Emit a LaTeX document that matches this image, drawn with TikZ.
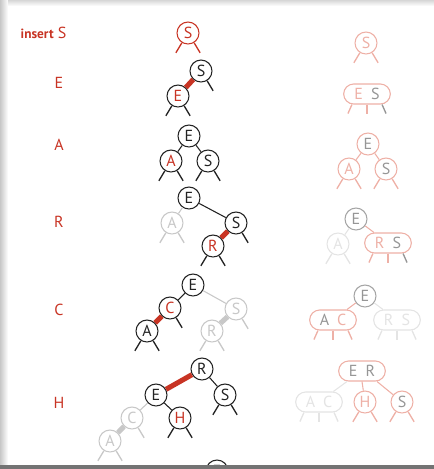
\documentclass[tikz,border=0pt]{standalone}
\usepackage{fontspec}
\setmainfont{PT Sans}
\usepackage{tikz}
\usetikzlibrary{calc,positioning}

\definecolor{ink}{RGB}{35,35,35}
\definecolor{redc}{RGB}{200,52,36}
\definecolor{pinkc}{RGB}{238,176,166}
\definecolor{grayc}{RGB}{150,150,150}
\definecolor{grayb}{RGB}{165,165,165}
\definecolor{ghost}{RGB}{200,200,200}
\definecolor{vlight}{RGB}{228,228,228}

\tikzset{
  nd/.style={circle, fill=white, minimum size=16.5pt, inner sep=0pt, line width=0.8pt,
    font=\fontsize{12pt}{12pt}\selectfont},
  dnd/.style={rectangle, rounded corners=7.5pt, fill=white, minimum width=35pt,
    minimum height=15pt, inner sep=0pt, line width=0.8pt, font=\fontsize{12pt}{12pt}\selectfont},
  blk/.style={nd, draw=ink, text=ink},
  blkr/.style={nd, draw=ink, text=redc},
  redn/.style={nd, draw=redc, text=redc},
  ghostn/.style={nd, draw=ghost, text=ghost},
  pinkn/.style={nd, draw=pinkc, text=pinkc},
  pinkg/.style={nd, draw=pinkc, text=grayc},
  grayn/.style={nd, draw=grayb, text=grayc},
  vlightn/.style={nd, draw=vlight, text=vlight},
  leg/.style={line width=1pt},
  lnk/.style={line width=0.8pt},
  fat/.style={line width=3.8pt},
  rowlabel/.style={text=redc, font=\fontsize{12pt}{12pt}\selectfont},
}

\newcommand{\lleg}[2]{\draw[leg,#2] (#1.-122) -- ++(-6,-10);}
\newcommand{\rleg}[2]{\draw[leg,#2] (#1.-58) -- ++(6,-10);}
\newcommand{\tlegs}[4]{%
  \draw[leg,#2] (#1.-145) -- ++(-4,-9);
  \draw[leg,#3] (#1.south) -- ++(0,-9);
  \draw[leg,#4] (#1.-35) -- ++(4,-9);}

\begin{document}
\begin{tikzpicture}[x=0.75pt,y=0.75pt]
  \useasboundingbox (0,-469) rectangle (434,0);
  % page edge
  \shade[left color=black!22, right color=white] (0,-469) rectangle (8,0);
  \shade[top color=black!16, bottom color=white] (8,0) rectangle (434,-6);

  % row labels
  \node[rowlabel, anchor=west] (lab1) at (16,-33) {{\fontsize{10pt}{10pt}\selectfont\bfseries insert} S};
  \node[rowlabel] (lab2) at (59,-83) {E};
  \node[rowlabel] (lab3) at (59,-145) {A};
  \node[rowlabel] (lab4) at (59,-222) {R};
  \node[rowlabel] (lab5) at (59,-310) {C};
  \node[rowlabel] (lab6) at (59,-403) {H};

  % insert S
  \node[redn] (s1) at (188,-33) {S};
  \lleg{s1}{redc} \rleg{s1}{redc}
  \node[pinkn] (s1r) at (366,-43) {S};
  \lleg{s1r}{pinkc} \rleg{s1r}{pinkc}

  % insert E
  \node[blk] (s2) at (201,-71) {S};
  \node[blkr] (e2) at (178,-96) {E};
  \draw[fat,redc] (s2) -- (e2);
  \rleg{s2}{ink}
  \lleg{e2}{ink} \rleg{e2}{ink}
  \node[dnd, draw=pinkc] (es2) at (367,-94) {\textcolor{pinkc}{E}\hspace{6pt}\textcolor{grayc}{S}};
  \tlegs{es2}{pinkc}{pinkc}{grayc}

  % insert A
  \node[blk] (e3) at (189,-136) {E};
  \node[blkr] (a3) at (171,-161) {A};
  \node[blk] (s3) at (208,-161) {S};
  \draw[lnk,ink] (e3) -- (a3);
  \draw[lnk,ink] (e3) -- (s3);
  \lleg{a3}{ink} \rleg{a3}{ink}
  \lleg{s3}{ink} \rleg{s3}{ink}
  \node[pinkg] (e3r) at (368,-144) {E};
  \node[pinkn] (a3r) at (349,-169) {A};
  \node[pinkg] (s3r) at (386,-169) {S};
  \draw[lnk,pinkc] (e3r) -- (a3r);
  \draw[lnk,pinkc] (e3r) -- (s3r);
  \lleg{a3r}{pinkc} \rleg{a3r}{pinkc}
  \lleg{s3r}{pinkc} \rleg{s3r}{pinkc}

  % insert R
  \node[blk] (e4) at (189,-198) {E};
  \node[ghostn] (a4) at (172,-223) {A};
  \node[blk] (s4) at (236,-223) {S};
  \node[blkr] (r4) at (213,-246) {R};
  \draw[lnk,ghost] (e4) -- (a4);
  \draw[lnk,ink] (e4) -- (s4);
  \draw[fat,redc] (s4) -- (r4);
  \lleg{a4}{ghost} \rleg{a4}{ghost}
  \rleg{s4}{ink}
  \lleg{r4}{ink} \rleg{r4}{ink}
  \node[grayn] (e4r) at (356,-219) {E};
  \node[vlightn] (a4r) at (338,-244) {A};
  \node[dnd, draw=pinkc] (rs4) at (388,-243) {\textcolor{pinkc}{R}\hspace{6pt}\textcolor{grayc}{S}};
  \draw[lnk,vlight] (e4r) -- (a4r);
  \draw[lnk,pinkc] (e4r) -- (rs4);
  \lleg{a4r}{vlight} \rleg{a4r}{vlight}
  \tlegs{rs4}{pinkc}{pinkc}{grayc}

  % insert C
  \node[blk] (e5) at (193,-285) {E};
  \node[blkr] (c5) at (170,-308) {C};
  \node[blk] (a5) at (147,-331) {A};
  \node[ghostn] (s5) at (236,-309) {S};
  \node[ghostn] (r5) at (212,-331) {R};
  \draw[lnk,ink] (e5) -- (c5);
  \draw[fat,redc] (c5) -- (a5);
  \draw[lnk,ghost] (e5) -- (s5);
  \draw[fat,ghost] (s5) -- (r5);
  \rleg{c5}{ink}
  \lleg{a5}{ink} \rleg{a5}{ink}
  \rleg{s5}{ghost}
  \lleg{r5}{ghost} \rleg{r5}{ghost}
  \node[grayn] (e5r) at (365,-296) {E};
  \node[dnd, draw=pinkc] (ac5) at (333,-320) {\textcolor{grayc}{A}\hspace{6pt}\textcolor{pinkc}{C}};
  \node[dnd, draw=vlight] (rs5) at (397,-320) {\textcolor{vlight}{R}\hspace{6pt}\textcolor{vlight}{S}};
  \draw[lnk,pinkc] (e5r) -- (ac5);
  \draw[lnk,vlight] (e5r) -- (rs5);
  \tlegs{ac5}{pinkc}{pinkc}{pinkc}
  \tlegs{rs5}{vlight}{vlight}{vlight}

  % insert H
  \node[blk] (r6) at (202,-369) {R};
  \node[blk] (e6) at (156,-395) {E};
  \node[blk] (s6) at (225,-395) {S};
  \node[blkr] (h6) at (180,-418) {H};
  \node[ghostn] (c6) at (132,-418) {C};
  \node[ghostn] (a6) at (110,-441) {A};
  \draw[fat,redc] (r6) -- (e6);
  \draw[lnk,ink] (r6) -- (s6);
  \draw[lnk,ink] (e6) -- (h6);
  \draw[lnk,ghost] (e6) -- (c6);
  \draw[fat,ghost] (c6) -- (a6);
  \rleg{c6}{ghost}
  \lleg{a6}{ghost} \rleg{a6}{ghost}
  \lleg{h6}{ink} \rleg{h6}{ink}
  \lleg{s6}{ink} \rleg{s6}{ink}
  \node[dnd, draw=pinkc] (er6) at (362,-371) {\textcolor{grayc}{E}\hspace{6pt}\textcolor{grayc}{R}};
  \node[dnd, draw=vlight] (ac6) at (319,-402) {\textcolor{vlight}{A}\hspace{6pt}\textcolor{vlight}{C}};
  \node[pinkn] (h6r) at (365,-402) {H};
  \node[pinkg] (s6r) at (402,-402) {S};
  \draw[lnk,vlight] (er6.-145) -- (ac6);
  \draw[lnk,pinkc] (er6.south) -- (h6r);
  \draw[lnk,pinkc] (er6.-35) -- (s6r);
  \tlegs{ac6}{vlight}{vlight}{vlight}
  \lleg{h6r}{pinkc} \rleg{h6r}{pinkc}
  \lleg{s6r}{pinkc} \rleg{s6r}{pinkc}

  % next row, cut off
  \node[blk] (e7) at (217,-471) {E};

  \fill[black!55] (0,-465) rectangle (434,-469);
\end{tikzpicture}
\end{document}
